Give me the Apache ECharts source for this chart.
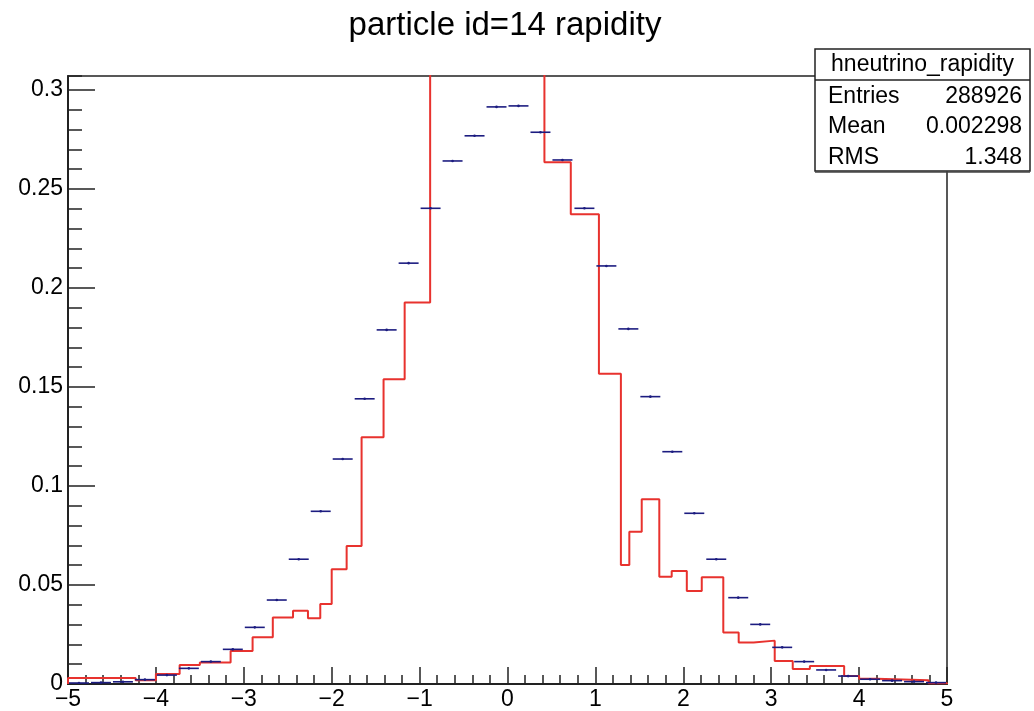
<!DOCTYPE html>
<html>
<head>
<meta charset="utf-8">
<title>particle id=14 rapidity</title>
<script src="https://cdn.jsdelivr.net/npm/echarts@6/dist/echarts.min.js"></script>
<style>
  html, body { margin: 0; padding: 0; background: #fff; }
  #chart { width: 1034px; height: 711px; }
</style>
</head>
<body>
<div id="chart"></div>
<script>
// blue points: 40 bins of 0.25 starting at -5
const binStart = -5
const binWidth = 0.25
const blueValues = [
  0.0005, 0.0007, 0.0011, 0.0022, 0.0045, 0.0079, 0.0113, 0.0175, 0.0286, 0.0424,
  0.063, 0.0872, 0.1136, 0.144, 0.1788, 0.2125, 0.2402, 0.2641, 0.2768, 0.2914,
  0.2919, 0.2786, 0.2646, 0.2402, 0.2111, 0.1793, 0.1451, 0.1173, 0.0862, 0.063,
  0.0436, 0.0301, 0.0185, 0.0113, 0.0071, 0.004, 0.0024, 0.0017, 0.0012, 0.0007
]

// red histogram, its own bin edges (one more edge than values)
const redEdges = [
  -5, -4.23, -4.0, -3.73, -3.5, -3.15, -2.9, -2.67, -2.44, -2.27, -2.13, -2.0,
  -1.83, -1.66, -1.41, -1.17, -0.88, 0.42, 0.72, 1.04, 1.29, 1.386, 1.527, 1.727,
  1.868, 2.04, 2.21, 2.455, 2.63, 2.8, 3.04, 3.245, 3.44, 3.83, 4.0, 4.2, 4.79, 5
]
const redValues = [
  0.003, 0.0019, 0.005, 0.0096, 0.0108, 0.0167, 0.0236, 0.0336, 0.037, 0.0332, 0.0404,
  0.0579, 0.0697, 0.1246, 0.1539, 0.1926, 0.4, 0.2635, 0.2372, 0.1566, 0.0601, 0.0769,
  0.0933, 0.0542, 0.0571, 0.047, 0.0539, 0.026, 0.0209, 0.0219, 0.0116, 0.0076, 0.0091,
  0.004, 0.0027, 0.0019, 0.0004
]

const xMin = -5
const xMax = 5
const xStep = 1
const yMax = 0.307
const yStep = 0.05
const yMinorStep = 0.01

const titleText = 'particle id=14 rapidity'
const statsTitle = 'hneutrino_rapidity'
const statsNames = ['Entries', 'Mean', 'RMS']
const statsValues = ['288926', '0.002298', '1.348']

const FONT = 'Liberation Sans, Arial, Helvetica, sans-serif'

const blueData = blueValues.map((v, i) => [binStart + binWidth * (i + 0.5), v])

const redData = [[redEdges[0], 0]]
for (let i = 0; i < redValues.length; i++) {
  redData.push([redEdges[i], redValues[i]])
}
redData.push([redEdges[redEdges.length - 1], redValues[redValues.length - 1]])
redData.push([redEdges[redEdges.length - 1], 0])

const chart = echarts.init(document.getElementById('chart'))

// stats box
const boxX = 815, boxY = 49, boxW = 215, boxH = 122, headH = 31, rowH = 30.5
const statsGraphics = [
  {
    type: 'rect',
    shape: { x: boxX, y: boxY, width: boxW, height: boxH },
    style: { fill: '#fff', stroke: '#222', lineWidth: 1.5 },
    z: 100
  },
  {
    type: 'line',
    shape: { x1: boxX, y1: boxY + boxH + 1, x2: boxX + boxW, y2: boxY + boxH + 1 },
    style: { stroke: '#444', lineWidth: 1.5 },
    z: 100
  },
  {
    type: 'line',
    shape: { x1: boxX, y1: boxY + headH, x2: boxX + boxW, y2: boxY + headH },
    style: { stroke: '#222', lineWidth: 1.5 },
    z: 101
  },
  {
    type: 'text',
    style: {
      x: boxX + boxW / 2, y: boxY + headH / 2, text: statsTitle,
      font: '23px ' + FONT, fill: '#000', align: 'center', verticalAlign: 'middle'
    },
    z: 101
  }
]
statsNames.forEach((name, i) => {
  const y = boxY + headH + rowH * (i + 0.5) + 1
  statsGraphics.push({
    type: 'text',
    style: { x: boxX + 13, y: y, text: name, font: '23px ' + FONT, fill: '#000', align: 'left', verticalAlign: 'middle' },
    z: 101
  })
  statsGraphics.push({
    type: 'text',
    style: { x: boxX + boxW - 8, y: y, text: statsValues[i], font: '23px ' + FONT, fill: '#000', align: 'right', verticalAlign: 'middle' },
    z: 101
  })
})

const option = {
  animation: false,
  backgroundColor: '#fff',
  textStyle: { fontFamily: FONT },
  grid: {
    left: 68,
    right: 87,
    top: 76,
    bottom: 27,
    show: true,
    borderColor: '#222',
    borderWidth: 1.5,
    backgroundColor: 'transparent'
  },
  graphic: [
    {
      type: 'text',
      style: {
        x: 505, y: 26, text: titleText,
        font: '33px ' + FONT, fill: '#000', align: 'center', verticalAlign: 'middle'
      }
    }
  ].concat(statsGraphics),
  xAxis: {
    type: 'value',
    min: xMin,
    max: xMax,
    interval: xStep,
    axisLine: { onZero: false, lineStyle: { color: '#222', width: 2 } },
    axisTick: { inside: true, length: 17, lineStyle: { color: '#222', width: 1.5 } },
    minorTick: { show: true, splitNumber: 5, length: 9, lineStyle: { color: '#222', width: 1.5 } },
    splitLine: { show: false },
    axisLabel: {
      margin: 4,
      fontSize: 23,
      color: '#000',
      formatter: v => String(v).replace('-', '\u2212')
    }
  },
  yAxis: [
    {
      type: 'value',
      position: 'left',
      min: 0,
      max: yMax,
      interval: yStep,
      axisLine: { show: true, onZero: false, lineStyle: { color: '#222', width: 2 } },
      axisTick: { show: true, inside: true, length: 27, lineStyle: { color: '#222', width: 1.5 } },
      splitLine: { show: false },
      axisLabel: { margin: 5, fontSize: 23, color: '#000', showMaxLabel: false }
    },
    {
      // minor ticks
      type: 'value',
      position: 'left',
      min: 0,
      max: yMax,
      interval: yMinorStep,
      axisLine: { show: false, onZero: false },
      axisTick: { show: true, inside: true, length: 14, lineStyle: { color: '#222', width: 1.5 } },
      splitLine: { show: false },
      axisLabel: { show: false }
    }
  ],
  series: [
    {
      name: 'red',
      type: 'line',
      step: 'end',
      data: redData,
      symbol: 'none',
      clip: true,
      lineStyle: { color: '#e8322e', width: 2 },
      z: 3
    },
    {
      name: 'blue',
      type: 'custom',
      data: blueData,
      encode: { x: 0, y: 1 },
      clip: true,
      z: 4,
      renderItem: function (params, api) {
        const c = api.value(0)
        const v = api.value(1)
        const p0 = api.coord([c - binWidth / 2, v])
        const p1 = api.coord([c + binWidth / 2, v])
        return {
          type: 'group',
          children: [
            {
              type: 'line',
              shape: { x1: p0[0] + 1, y1: p0[1], x2: p1[0] - 1, y2: p1[1] },
              style: { stroke: '#1c1c80', lineWidth: 1.6 }
            },
            {
              type: 'circle',
              shape: { cx: (p0[0] + p1[0]) / 2, cy: p0[1], r: 1.3 },
              style: { fill: '#1c1c80' }
            }
          ]
        }
      }
    }
  ]
}

chart.setOption(option)
</script>
</body>
</html>
